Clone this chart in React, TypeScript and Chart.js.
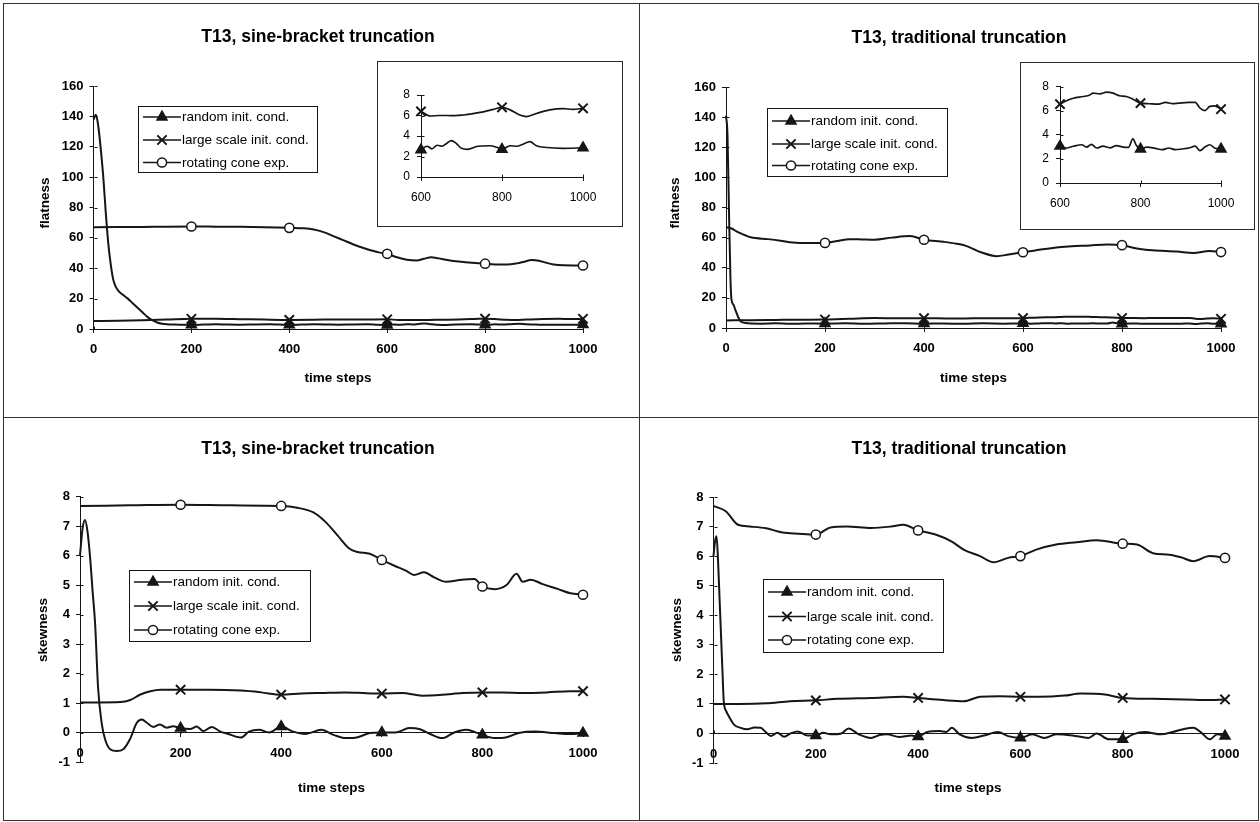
import React, { useEffect, useRef } from 'react';
import { Chart, registerables } from 'chart.js';

Chart.register(...registerables);

type Pt = [number, number];

// ---- axes -------------------------------------------------------------
const TIME_MIN = 0;
const TIME_MAX = 1000;
const TIME_STEP = 200;
const INSET_TIME_MIN = 600;
const FLATNESS_MIN = 0;
const FLATNESS_MAX = 160;
const FLATNESS_STEP = 20;
const SKEWNESS_MIN = -1;
const SKEWNESS_MAX = 8;
const SKEWNESS_STEP = 1;
const INSET_FLAT_MIN = 0;
const INSET_FLAT_MAX = 8;
const INSET_FLAT_STEP = 2;
const MARKER_STEPS = [200, 400, 600, 800, 1000];

// ---- labels -----------------------------------------------------------
const SERIES_LABELS = ['random init. cond.', 'large scale init. cond.', 'rotating cone exp.'];
const TITLE_SINE = 'T13, sine-bracket truncation';
const TITLE_TRAD = 'T13, traditional truncation';
const X_TITLE = 'time steps';
const Y_TITLE_FLAT = 'flatness';
const Y_TITLE_SKEW = 'skewness';

// ---- flatness, sine-bracket truncation ---------------------------------
const sbFlatRandom: Pt[] = [
  [0, 138], [5, 141], [10, 133], [15, 118], [20, 100], [25, 77], [30, 57], [35, 43], [40, 33], [45, 28],
  [50, 25.5], [60, 22.5], [70, 20], [80, 17], [90, 14], [100, 11], [110, 8], [120, 5.8], [130, 4.3], [140, 3.5],
  [150, 3.1], [165, 2.9], [185, 2.8], [200, 2.7], [225, 2.9], [250, 3.1], [275, 2.9], [300, 2.8], [330, 3.0],
  [360, 3.1], [380, 2.9], [400, 2.7], [425, 2.9], [450, 3.1], [475, 3.0], [500, 2.8], [530, 3.0], [560, 3.1],
  [580, 2.8], [600, 2.65], [615, 3.0], [627, 2.75], [640, 3.1], [652, 3.0], [664, 3.3], [675, 3.55], [685, 3.35],
  [700, 2.8], [715, 2.7], [740, 3.0], [770, 3.05], [787, 2.9], [800, 2.7], [820, 3.05], [836, 3.0], [852, 3.2],
  [869, 3.45], [885, 3.05], [910, 2.88], [950, 2.8], [1000, 2.85],
];
const sbFlatLarge: Pt[] = [
  [0, 5.3], [50, 5.4], [100, 5.7], [150, 6.2], [200, 6.7], [250, 6.8], [300, 6.5], [350, 6.2], [400, 6.0],
  [450, 6.1], [500, 6.3], [550, 6.2], [600, 6.4], [623, 5.95], [645, 6.0], [664, 6.0], [685, 5.98], [705, 6.05],
  [725, 6.15], [746, 6.3], [779, 6.6], [800, 6.8], [820, 6.55], [844, 6.05], [861, 5.9], [885, 6.2], [918, 6.55],
  [951, 6.67], [975, 6.6], [1000, 6.7],
];
const sbFlatCone: Pt[] = [
  [0, 67], [50, 67.1], [100, 67.2], [150, 67.4], [200, 67.5], [250, 67.4], [300, 67.3], [350, 67.0], [400, 66.6],
  [430, 66.3], [450, 65.5], [470, 63.8], [490, 61.2], [510, 58.5], [530, 55.8], [550, 53.5], [570, 51.5],
  [585, 50.3], [600, 49.5], [620, 47.2], [640, 45.6], [660, 45.1], [675, 46.2], [690, 47.3], [705, 46.5],
  [720, 45.6], [740, 44.6], [760, 44.0], [780, 43.5], [800, 43.0], [820, 42.5], [845, 42.4], [865, 43.2],
  [880, 44.3], [895, 45.4], [910, 45.0], [925, 43.6], [940, 42.5], [960, 41.9], [980, 41.8], [1000, 41.8],
];

// ---- flatness, traditional truncation ----------------------------------
const trFlatRandom: Pt[] = [
  [0, 141], [3, 128], [6, 78], [9, 33], [11, 19], [15, 15.5], [20, 11], [25, 7], [30, 4.3], [40, 3.3], [50, 3.0],
  [70, 2.9], [100, 3.1], [130, 2.8], [160, 3.0], [200, 2.9], [240, 3.1], [280, 2.8], [320, 3.0], [360, 3.2],
  [400, 2.9], [440, 3.0], [480, 2.8], [520, 3.1], [560, 2.9], [600, 3.05], [616, 2.9], [633, 3.05], [654, 3.17],
  [666, 2.98], [678, 3.2], [691, 2.9], [707, 3.05], [724, 2.92], [740, 3.1], [757, 2.98], [770, 2.95], [781, 3.65],
  [790, 3.1], [800, 2.82], [816, 2.98], [837, 2.87], [854, 2.76], [870, 2.9], [887, 2.76], [903, 2.82], [920, 2.9],
  [936, 3.05], [948, 2.68], [960, 2.98], [972, 3.17], [984, 2.9], [1000, 2.82],
];
const trFlatLarge: Pt[] = [
  [0, 5.0], [50, 5.2], [100, 5.35], [150, 5.5], [200, 5.6], [250, 6.1], [300, 6.6], [350, 6.4], [400, 6.5],
  [450, 6.3], [500, 6.4], [550, 6.5], [600, 6.54], [612, 6.76], [633, 7.03], [658, 7.17], [674, 7.3], [682, 7.45],
  [699, 7.39], [716, 7.53], [732, 7.45], [748, 7.23], [765, 7.17], [781, 6.95], [800, 6.62], [821, 6.57],
  [845, 6.54], [862, 6.68], [880, 6.58], [895, 6.62], [920, 6.68], [936, 6.68], [948, 6.2], [960, 6.0],
  [972, 6.35], [984, 6.4], [1000, 6.12],
];
const trFlatCone: Pt[] = [
  [0, 67], [10, 66.2], [25, 63.5], [50, 60.2], [85, 59], [110, 58], [135, 56.8], [165, 56.4], [200, 56.5],
  [225, 57.8], [250, 59], [275, 58.8], [300, 58.6], [335, 60], [372, 61], [400, 58.6], [440, 57.2], [465, 56],
  [485, 54.5], [515, 50.3], [547, 47.7], [571, 48.8], [600, 50.3], [625, 51.5], [645, 52.5], [685, 54],
  [735, 54.8], [770, 55.4], [800, 55], [830, 52.8], [862, 51.6], [911, 50.8], [944, 49.8], [977, 51.2], [1000, 50.4],
];

// ---- skewness, sine-bracket truncation ---------------------------------
const sbSkewRandom: Pt[] = [
  [0, 6.0], [5, 6.9], [10, 7.2], [15, 6.8], [20, 5.95], [25, 4.8], [30, 3.7], [36, 1.5], [43, 0.33], [50, -0.24],
  [60, -0.57], [73, -0.63], [86, -0.57], [99, -0.24], [113, 0.33], [123, 0.44], [133, 0.33], [146, 0.19],
  [159, 0.27], [172, 0.16], [185, 0.21], [200, 0.15], [219, 0.12], [232, 0.2], [245, 0.05], [262, 0.19],
  [278, 0.04], [295, -0.05], [320, -0.17], [336, 0.03], [356, 0.09], [376, 0.0], [400, 0.2], [424, 0.03],
  [448, -0.05], [480, 0.09], [504, -0.08], [528, -0.19], [552, -0.16], [576, -0.02], [600, 0.0], [627, 0.0],
  [655, 0.15], [676, 0.11], [696, -0.05], [720, -0.19], [744, 0.0], [767, 0.09], [783, 0.03], [800, -0.08],
  [824, -0.19], [848, -0.16], [872, -0.02], [904, 0.03], [944, -0.02], [975, -0.05], [1000, -0.02],
];
const sbSkewLarge: Pt[] = [
  [0, 1.02], [40, 1.02], [80, 1.03], [100, 1.1], [119, 1.28], [140, 1.4], [160, 1.45], [200, 1.45], [256, 1.45],
  [320, 1.42], [360, 1.36], [400, 1.28], [440, 1.32], [480, 1.34], [528, 1.36], [570, 1.33], [600, 1.32],
  [640, 1.34], [680, 1.25], [720, 1.28], [760, 1.34], [800, 1.36], [840, 1.36], [880, 1.34], [928, 1.36],
  [975, 1.4], [1000, 1.4],
];
const sbSkewCone: Pt[] = [
  [0, 7.68], [100, 7.7], [200, 7.72], [300, 7.7], [400, 7.68], [432, 7.62], [464, 7.46], [488, 7.14], [512, 6.68],
  [536, 6.23], [552, 6.12], [576, 6.06], [600, 5.85], [624, 5.66], [648, 5.49], [664, 5.34], [684, 5.43],
  [704, 5.26], [728, 5.11], [759, 5.18], [784, 5.2], [800, 4.95], [824, 4.86], [848, 5.0], [868, 5.38],
  [880, 5.11], [896, 5.18], [920, 5.03], [951, 4.86], [975, 4.72], [1000, 4.67],
];

// ---- skewness, traditional truncation ----------------------------------
const trSkewRandom: Pt[] = [
  [0, 6.0], [3, 6.5], [6, 6.67], [9, 5.8], [12, 4.5], [15, 3.2], [18, 1.9], [20, 1.1], [25, 0.75], [30, 0.58],
  [40, 0.3], [53, 0.19], [66, 0.14], [80, 0.2], [92, 0.19], [102, 0.05], [112, -0.09], [125, 0.02], [138, -0.11],
  [151, 0.0], [164, 0.07], [184, -0.07], [200, -0.07], [215, 0.02], [229, -0.03], [250, 0.0], [264, 0.17],
  [284, -0.03], [308, -0.15], [325, -0.05], [339, -0.03], [363, -0.12], [387, -0.07], [400, -0.11], [418, 0.05],
  [442, 0.08], [455, 0.05], [466, 0.19], [481, -0.03], [505, -0.15], [529, -0.07], [556, 0.05], [576, -0.09],
  [600, -0.15], [623, -0.03], [647, -0.15], [670, -0.03], [702, -0.07], [733, -0.15], [749, 0.0], [773, -0.2],
  [800, -0.2], [820, -0.03], [843, 0.05], [875, -0.03], [898, 0.05], [922, 0.16], [938, 0.19], [954, 0.02],
  [970, -0.2], [985, -0.03], [1000, -0.09],
];
const trSkewLarge: Pt[] = [
  [0, 1.0], [50, 1.0], [103, 1.02], [150, 1.09], [200, 1.12], [243, 1.17], [308, 1.2], [371, 1.24], [400, 1.2],
  [449, 1.13], [489, 1.09], [521, 1.24], [560, 1.26], [600, 1.24], [638, 1.24], [686, 1.28], [718, 1.35],
  [765, 1.32], [800, 1.2], [859, 1.17], [922, 1.15], [970, 1.13], [1000, 1.15],
];
const trSkewCone: Pt[] = [
  [0, 7.7], [24, 7.52], [48, 7.06], [71, 7.0], [103, 6.94], [135, 6.8], [166, 6.76], [200, 6.73], [229, 6.97],
  [261, 7.0], [308, 6.95], [347, 7.0], [371, 7.06], [400, 6.87], [434, 6.73], [465, 6.5], [489, 6.22], [521, 6.0],
  [548, 5.79], [576, 5.94], [600, 6.0], [631, 6.22], [670, 6.39], [710, 6.47], [749, 6.54], [800, 6.42],
  [828, 6.39], [859, 6.1], [891, 6.05], [914, 5.96], [938, 5.83], [970, 6.0], [1000, 5.94],
];

// ---- drawing helpers ---------------------------------------------------
const FONT = '"Liberation Sans", Arial, Helvetica, sans-serif';
const INK = '#161616';
type Marker = 'triangle' | 'crossRot' | 'circle';
const MARKERS: Marker[] = ['triangle', 'crossRot', 'circle'];
const MARKER_RADIUS: Record<Marker, number> = { triangle: 5.8, crossRot: 6.6, circle: 4.6 };

const Y_AXIS_W = 44;
const X_AXIS_H = 30;
const INSET_Y_W = 24;
const INSET_X_H = 26;

interface Box { l: number; t: number; r: number; b: number; }
interface LegendSpec { x: number; y: number; w: number; h: number; rows: number[]; }
interface PanelSpec {
  frame: Box;
  plot: Box;
  title: string;
  titleAt: [number, number];
  yTitle: string;
  yTitleAt: [number, number];
  xTitleAt: [number, number];
  yMin: number;
  yMax: number;
  yStep: number;
  xAxisAtZero: boolean;
  legend: LegendSpec;
  series: Pt[][];
}
interface InsetSpec { frame: Box; plot: Box; series: Pt[][]; }

function drawMarker(ctx: CanvasRenderingContext2D, m: Marker, x: number, y: number) {
  const r = MARKER_RADIUS[m];
  ctx.save();
  ctx.strokeStyle = INK;
  ctx.fillStyle = INK;
  ctx.beginPath();
  if (m === 'triangle') {
    ctx.moveTo(x, y - r);
    ctx.lineTo(x + r * 0.866, y + r * 0.5);
    ctx.lineTo(x - r * 0.866, y + r * 0.5);
    ctx.closePath();
    ctx.fill();
    ctx.lineWidth = 1.5;
    ctx.stroke();
  } else if (m === 'crossRot') {
    const d = r * 0.7071;
    ctx.lineWidth = 2;
    ctx.moveTo(x - d, y - d);
    ctx.lineTo(x + d, y + d);
    ctx.moveTo(x + d, y - d);
    ctx.lineTo(x - d, y + d);
    ctx.stroke();
  } else {
    ctx.arc(x, y, r, 0, Math.PI * 2);
    ctx.fillStyle = '#fff';
    ctx.fill();
    ctx.lineWidth = 1.5;
    ctx.stroke();
  }
  ctx.restore();
}

function dataset(points: Pt[], i: number, lineWidth: number) {
  const m = MARKERS[i];
  const r = MARKER_RADIUS[m];
  return {
    label: SERIES_LABELS[i],
    data: points.map(([x, y]) => ({ x, y })),
    borderColor: INK,
    borderWidth: lineWidth,
    pointStyle: m,
    pointRadius: (c: any) => (c.raw && MARKER_STEPS.includes(c.raw.x) ? r : 0),
    pointBorderWidth: m === 'crossRot' ? 2 : 1.5,
    pointBackgroundColor: m === 'circle' ? '#fff' : INK,
    pointBorderColor: INK,
    cubicInterpolationMode: 'monotone',
    tension: 0.4,
    clip: false,
  };
}

// second half of the cross-style tick marks (inside the plot)
function innerTicks(chart: any) {
  const ctx = chart.ctx;
  const xs = chart.scales.x;
  const ys = chart.scales.y;
  const axisY = Math.round(ys.getPixelForValue(0)) + 0.5;
  const axisX = Math.round(xs.getPixelForValue(xs.min)) + 0.5;
  ctx.save();
  ctx.strokeStyle = INK;
  ctx.lineWidth = 1;
  ctx.beginPath();
  xs.ticks.forEach((t: any) => {
    const px = Math.round(xs.getPixelForValue(t.value)) + 0.5;
    ctx.moveTo(px, axisY - 3);
    ctx.lineTo(px, axisY);
  });
  ys.ticks.forEach((t: any) => {
    const py = Math.round(ys.getPixelForValue(t.value)) + 0.5;
    ctx.moveTo(axisX, py);
    ctx.lineTo(axisX + 3, py);
  });
  ctx.stroke();
  ctx.restore();
}

function panelDecor(p: PanelSpec) {
  return {
    id: 'panelDecor',
    afterDatasetsDraw(chart: any) {
      const ctx: CanvasRenderingContext2D = chart.ctx;
      const ox = p.frame.l;
      const oy = p.frame.t;
      innerTicks(chart);
      ctx.save();
      ctx.fillStyle = '#000';
      ctx.textAlign = 'center';
      ctx.textBaseline = 'middle';
      ctx.font = `bold 17.5px ${FONT}`;
      ctx.fillText(p.title, p.titleAt[0] - ox, p.titleAt[1] - oy);
      ctx.font = `bold 13.5px ${FONT}`;
      ctx.fillText(X_TITLE, p.xTitleAt[0] - ox, p.xTitleAt[1] - oy);
      ctx.save();
      ctx.translate(p.yTitleAt[0] - ox, p.yTitleAt[1] - oy);
      ctx.rotate(-Math.PI / 2);
      ctx.fillText(p.yTitle, 0, 0);
      ctx.restore();

      // legend
      const L = p.legend;
      const lx = L.x - ox;
      const ly = L.y - oy;
      ctx.fillStyle = '#fff';
      ctx.fillRect(lx, ly, L.w, L.h);
      ctx.strokeStyle = INK;
      ctx.lineWidth = 1;
      ctx.strokeRect(Math.round(lx) + 0.5, Math.round(ly) + 0.5, Math.round(L.w), Math.round(L.h));
      L.rows.forEach((row, i) => {
        const y = row - oy;
        ctx.strokeStyle = INK;
        ctx.lineWidth = 1.6;
        ctx.beginPath();
        ctx.moveTo(lx + 5, y);
        ctx.lineTo(lx + 43, y);
        ctx.stroke();
        drawMarker(ctx, MARKERS[i], lx + 24, y);
        ctx.fillStyle = '#000';
        ctx.font = `13.5px ${FONT}`;
        ctx.textAlign = 'left';
        ctx.textBaseline = 'middle';
        ctx.fillText(SERIES_LABELS[i], lx + 44, y + 0.5);
      });
      ctx.restore();
    },
  };
}

const numLabel = (v: any) => String(v);

function mainConfig(p: PanelSpec): any {
  const padding = {
    left: p.plot.l - p.frame.l - Y_AXIS_W,
    top: p.plot.t - p.frame.t,
    right: p.frame.r - p.plot.r,
    bottom: p.xAxisAtZero ? p.frame.b - p.plot.b : p.frame.b - p.plot.b - X_AXIS_H,
  };
  const tickFont = { family: FONT, size: 13, weight: 'bold' };
  return {
    type: 'line',
    data: { datasets: p.series.map((s, i) => dataset(s, i, 2)) },
    options: {
      animation: false,
      responsive: false,
      devicePixelRatio: 1,
      events: [],
      layout: { padding },
      plugins: { legend: { display: false }, tooltip: { enabled: false }, title: { display: false } },
      scales: {
        x: {
          type: 'linear',
          min: TIME_MIN,
          max: TIME_MAX,
          position: p.xAxisAtZero ? { y: 0 } : 'bottom',
          afterFit: (s: any) => { s.height = X_AXIS_H; },
          grid: { drawOnChartArea: false, drawTicks: true, tickLength: 4, color: INK, lineWidth: 1 },
          border: { display: true, color: INK, width: 1 },
          ticks: { stepSize: TIME_STEP, autoSkip: false, maxRotation: 0, padding: 9, color: '#000', font: tickFont, callback: numLabel },
        },
        y: {
          type: 'linear',
          min: p.yMin,
          max: p.yMax,
          position: 'left',
          afterFit: (s: any) => { s.width = Y_AXIS_W; },
          grid: { drawOnChartArea: false, drawTicks: true, tickLength: 4, color: INK, lineWidth: 1 },
          border: { display: true, color: INK, width: 1 },
          ticks: { stepSize: p.yStep, autoSkip: false, padding: 6, color: '#000', font: tickFont, callback: numLabel },
        },
      },
    },
    plugins: [panelDecor(p)],
  };
}

function insetConfig(s: InsetSpec): any {
  const padding = {
    left: s.plot.l - s.frame.l - INSET_Y_W,
    top: s.plot.t - s.frame.t,
    right: s.frame.r - s.plot.r,
    bottom: s.frame.b - s.plot.b - INSET_X_H,
  };
  const tickFont = { family: FONT, size: 12 };
  const w = s.frame.r - s.frame.l;
  const h = s.frame.b - s.frame.t;
  return {
    type: 'line',
    data: {
      datasets: s.series.map((pts, i) => dataset(pts.filter(([t]) => t >= INSET_TIME_MIN), i, 1.7)),
    },
    options: {
      animation: false,
      responsive: false,
      devicePixelRatio: 1,
      events: [],
      layout: { padding },
      plugins: { legend: { display: false }, tooltip: { enabled: false }, title: { display: false } },
      scales: {
        x: {
          type: 'linear',
          min: INSET_TIME_MIN,
          max: TIME_MAX,
          position: 'bottom',
          afterFit: (sc: any) => { sc.height = INSET_X_H; },
          grid: { drawOnChartArea: false, drawTicks: true, tickLength: 4, color: INK, lineWidth: 1 },
          border: { display: true, color: INK, width: 1 },
          ticks: { stepSize: TIME_STEP, autoSkip: false, maxRotation: 0, padding: 9, color: '#000', font: tickFont, callback: numLabel },
        },
        y: {
          type: 'linear',
          min: INSET_FLAT_MIN,
          max: INSET_FLAT_MAX,
          position: 'left',
          afterFit: (sc: any) => { sc.width = INSET_Y_W; },
          grid: { drawOnChartArea: false, drawTicks: true, tickLength: 4, color: INK, lineWidth: 1 },
          border: { display: true, color: INK, width: 1 },
          ticks: { stepSize: INSET_FLAT_STEP, autoSkip: false, padding: 7, color: '#000', font: tickFont, callback: numLabel },
        },
      },
    },
    plugins: [
      {
        id: 'insetFrame',
        beforeDraw(chart: any) {
          const ctx = chart.ctx;
          ctx.save();
          ctx.fillStyle = '#fff';
          ctx.fillRect(0, 0, w, h);
          ctx.strokeStyle = '#2a2a2a';
          ctx.lineWidth = 1;
          ctx.strokeRect(0.5, 0.5, w - 1, h - 1);
          ctx.restore();
        },
        afterDatasetsDraw(chart: any) { innerTicks(chart); },
      },
    ],
  };
}

function ChartCanvas({ frame, make }: { frame: Box; make: () => any }) {
  const ref = useRef<HTMLCanvasElement | null>(null);
  const w = frame.r - frame.l;
  const h = frame.b - frame.t;
  useEffect(() => {
    if (!ref.current) return;
    const chart = new Chart(ref.current, make());
    return () => chart.destroy();
  }, []);
  return (
    <canvas
      ref={ref}
      width={w}
      height={h}
      style={{ position: 'absolute', left: frame.l, top: frame.t, width: w, height: h }}
    />
  );
}

// ---- panel layout -----------------------------------------------------
const PANELS: PanelSpec[] = [
  {
    frame: { l: 0, t: 0, r: 638, b: 417 },
    plot: { l: 93.5, t: 86, r: 583, b: 329 },
    title: TITLE_SINE, titleAt: [318, 37],
    yTitle: Y_TITLE_FLAT, yTitleAt: [45, 203],
    xTitleAt: [338, 378],
    yMin: FLATNESS_MIN, yMax: FLATNESS_MAX, yStep: FLATNESS_STEP,
    xAxisAtZero: false,
    legend: { x: 138, y: 106, w: 179, h: 66, rows: [117, 140, 162.5] },
    series: [sbFlatRandom, sbFlatLarge, sbFlatCone],
  },
  {
    frame: { l: 640, t: 0, r: 1260, b: 417 },
    plot: { l: 726, t: 87, r: 1221, b: 328 },
    title: TITLE_TRAD, titleAt: [959, 38],
    yTitle: Y_TITLE_FLAT, yTitleAt: [675, 203],
    xTitleAt: [973.5, 378],
    yMin: FLATNESS_MIN, yMax: FLATNESS_MAX, yStep: FLATNESS_STEP,
    xAxisAtZero: false,
    legend: { x: 767, y: 108, w: 180, h: 68, rows: [121, 144, 165.5] },
    series: [trFlatRandom, trFlatLarge, trFlatCone],
  },
  {
    frame: { l: 0, t: 418, r: 638, b: 822 },
    plot: { l: 80, t: 496.5, r: 583, b: 762 },
    title: TITLE_SINE, titleAt: [318, 449],
    yTitle: Y_TITLE_SKEW, yTitleAt: [43.5, 630],
    xTitleAt: [331.5, 788],
    yMin: SKEWNESS_MIN, yMax: SKEWNESS_MAX, yStep: SKEWNESS_STEP,
    xAxisAtZero: true,
    legend: { x: 129, y: 570, w: 181, h: 71, rows: [582, 606, 630] },
    series: [sbSkewRandom, sbSkewLarge, sbSkewCone],
  },
  {
    frame: { l: 640, t: 418, r: 1260, b: 822 },
    plot: { l: 713.5, t: 497, r: 1225, b: 763 },
    title: TITLE_TRAD, titleAt: [959, 449],
    yTitle: Y_TITLE_SKEW, yTitleAt: [677, 630],
    xTitleAt: [968, 788],
    yMin: SKEWNESS_MIN, yMax: SKEWNESS_MAX, yStep: SKEWNESS_STEP,
    xAxisAtZero: true,
    legend: { x: 763, y: 579, w: 180, h: 73, rows: [592, 616.5, 640] },
    series: [trSkewRandom, trSkewLarge, trSkewCone],
  },
];

const INSETS: InsetSpec[] = [
  {
    frame: { l: 377, t: 61, r: 623, b: 227 },
    plot: { l: 421, t: 95, r: 583, b: 177 },
    series: [sbFlatRandom, sbFlatLarge],
  },
  {
    frame: { l: 1020, t: 62, r: 1255, b: 230 },
    plot: { l: 1060, t: 86.5, r: 1221, b: 183 },
    series: [trFlatRandom, trFlatLarge],
  },
];

const RULES: { l: number; t: number; w: number; h: number }[] = [
  { l: 3, t: 3, w: 1256, h: 1 },
  { l: 3, t: 820, w: 1256, h: 1 },
  { l: 3, t: 3, w: 1, h: 818 },
  { l: 1258, t: 3, w: 1, h: 818 },
  { l: 639, t: 3, w: 1, h: 818 },
  { l: 3, t: 417, w: 1256, h: 1 },
];

export default function App() {
  return (
    <div
      style={{
        position: 'fixed', left: 0, top: 0, width: 1260, height: 822,
        background: '#fff', overflow: 'hidden',
      }}
    >
      {PANELS.map((p, i) => (
        <ChartCanvas key={`p${i}`} frame={p.frame} make={() => mainConfig(p)} />
      ))}
      {INSETS.map((s, i) => (
        <ChartCanvas key={`i${i}`} frame={s.frame} make={() => insetConfig(s)} />
      ))}
      {RULES.map((r, i) => (
        <div
          key={`r${i}`}
          style={{ position: 'absolute', left: r.l, top: r.t, width: r.w, height: r.h, background: '#333' }}
        />
      ))}
    </div>
  );
}
